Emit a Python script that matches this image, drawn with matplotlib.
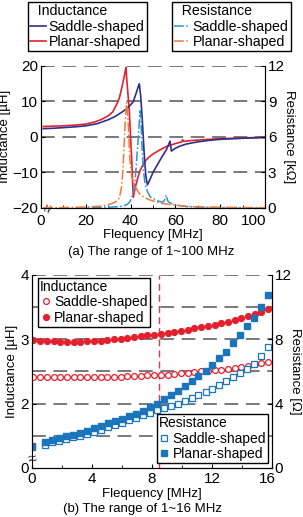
import matplotlib.pyplot as plt
import matplotlib.transforms as mtransforms
from matplotlib.lines import Line2D
from matplotlib.ticker import MultipleLocator

plt.rcParams['font.family'] = ['Liberation Sans', 'DejaVu Sans']

# (a) 1~100 MHz
f_L_planar = [1, 5, 10, 15, 20, 24, 27, 30, 32, 34, 35, 36, 37, 37.5, 37.9, 38.5, 39.4, 40.5, 41.2, 42,
              43, 44.2, 46, 48, 50, 53, 56, 60, 62.8, 63.2, 63.6, 66, 70, 75, 80, 90, 100]
L_planar = [2.9, 3.0, 3.1, 3.3, 3.6, 4.2, 4.9, 5.9, 7.0, 9.4, 11.0, 13.6, 16.5, 18.2, 19.5, 14.5, 7.6, -6.5, -17.0, -14.5,
            -12.0, -9.5, -7.2, -5.8, -4.8, -3.7, -2.7, -1.9, -1.4, -0.8, -1.3, -1.1, -0.9, -0.7, -0.5, -0.3, -0.1]

f_L_saddle = [1, 5, 10, 15, 20, 25, 30, 33, 36, 38, 40, 41.2, 42.7, 43.5, 43.9, 44.5, 45.2, 46, 46.8, 47.5,
              48.5, 50, 52, 54, 56, 57.6, 58.2, 60, 62, 65, 70, 75, 80, 90, 100]
L_saddle = [2.3, 2.4, 2.6, 2.8, 3.1, 3.7, 4.8, 5.7, 6.9, 7.8, 9.0, 9.9, 12.7, 14.3, 14.9, 11.5, 5.0, -4.0, -11.0, -13.5,
            -12.2, -10.0, -7.8, -5.6, -3.6, -1.2, -4.0, -3.2, -2.6, -2.0, -1.4, -1.0, -0.7, -0.4, -0.2]

f_R_planar = [1, 10, 20, 25, 29, 32, 34, 35, 36, 36.5, 37, 37.5, 38.2, 38.6, 39, 39.7, 40.5, 42, 44, 46,
              48.7, 53, 57, 60.5, 65, 70, 80, 100]
R_planar = [0.02, 0.04, 0.08, 0.13, 0.22, 0.4, 0.6, 0.85, 1.8, 3.0, 4.8, 6.9, 8.9, 8.2, 6.9, 4.0, 2.6, 1.8, 1.2, 0.9,
            0.67, 0.42, 0.3, 0.22, 0.14, 0.09, 0.05, 0.02]

f_R_saddle = [1, 10, 20, 28, 32, 35, 36.7, 38.5, 39.7, 41.2, 42, 42.7, 43.3, 43.8, 44.2, 44.6, 45, 45.7, 46.5, 47.5,
              48.7, 51, 53.1, 54.5, 55.3, 55.8, 56.3, 56.8, 58.5, 60.5, 65, 70, 80, 100]
R_saddle = [0.01, 0.02, 0.03, 0.05, 0.08, 0.12, 0.17, 0.3, 0.53, 1.2, 2.3, 4.0, 5.6, 7.0, 8.2, 7.5, 5.5, 3.2, 2.0, 1.4,
            0.95, 0.7, 0.53, 0.5, 0.7, 1.1, 0.8, 0.53, 0.35, 0.25, 0.12, 0.07, 0.04, 0.02]

# (b) 1~16 MHz
f_dots = [0.10, 0.55, 0.99, 1.44, 1.89, 2.34, 2.78, 3.23, 3.68, 4.12, 4.57, 5.02, 5.46, 5.91, 6.36, 6.81, 7.25, 7.70,
          8.15, 8.59, 9.04, 9.49, 9.93, 10.38, 10.83, 11.28, 11.72, 12.17, 12.62, 13.06, 13.51, 13.96, 14.40, 14.85,
          15.30, 15.75]
Lb_planar = [2.99, 2.98, 2.97, 2.97, 2.96, 2.96, 2.96, 2.96, 2.97, 2.97, 2.98, 2.99, 3.00, 3.01, 3.02, 3.03, 3.05, 3.06,
             3.07, 3.09, 3.10, 3.12, 3.13, 3.15, 3.17, 3.19, 3.21, 3.23, 3.25, 3.27, 3.30, 3.33, 3.36, 3.39, 3.43, 3.47]
Lb_saddle = [2.41, 2.41, 2.41, 2.41, 2.41, 2.41, 2.41, 2.41, 2.41, 2.41, 2.42, 2.42, 2.42, 2.42, 2.43, 2.43, 2.43, 2.44,
             2.44, 2.45, 2.45, 2.46, 2.47, 2.48, 2.49, 2.50, 2.51, 2.52, 2.53, 2.54, 2.56, 2.57, 2.59, 2.61, 2.63, 2.65]

f_sq = [0.0, 0.87, 1.34, 1.80, 2.27, 2.73, 3.20, 3.66, 4.13, 4.59, 5.06, 5.52, 5.99, 6.45, 6.92, 7.38, 7.85, 8.31,
        8.78, 9.24, 9.71, 10.17, 10.64, 11.10, 11.57, 12.03, 12.50, 12.96, 13.43, 13.89, 14.36, 14.82, 15.29, 15.75]
Rb_planar = [1.35, 1.64, 1.76, 1.88, 1.97, 2.08, 2.20, 2.33, 2.47, 2.62, 2.78, 2.92, 3.07, 3.22, 3.38, 3.56, 3.78, 3.98,
             4.26, 4.52, 4.79, 5.08, 5.40, 5.70, 6.03, 6.38, 6.85, 7.22, 7.75, 8.28, 8.83, 9.35, 10.03, 10.76]
Rb_saddle = [1.30, 1.43, 1.62, 1.70, 1.78, 1.90, 1.99, 2.10, 2.24, 2.38, 2.54, 2.66, 2.80, 2.97, 3.13, 3.28, 3.44, 3.58,
             3.71, 3.86, 4.00, 4.15, 4.33, 4.52, 4.72, 4.92, 5.14, 5.40, 5.66, 5.90, 6.14, 6.48, 6.95, 7.54]
f_marker = 8.5

navy = '#2e2f8f'
red = '#e5202e'
lblue = '#2a93d0'
orange = '#ee7a3b'
sqblue = '#1b75bc'
gridc = '#555555'
dash = (0, (9, 5))

fig = plt.figure(figsize=(3.03, 5.17), dpi=100)


def shift_last_xlabel(ax, dx_px):
    # nudge the last x tick label left so it does not run into the right axis
    lab = ax.get_xticklabels()[-1]
    lab.set_transform(lab.get_transform() + mtransforms.ScaledTranslation(dx_px / 100, 0, fig.dpi_scale_trans))


# ---------- (a) ----------
ax1 = fig.add_axes([0.1353, 0.5977, 0.7393, 0.2752])
ax1r = ax1.twinx()
ax1.plot(f_L_planar, L_planar, color=red, lw=1.2, zorder=3)
ax1.plot(f_L_saddle, L_saddle, color=navy, lw=1.2, zorder=3)
ax1r.plot(f_R_saddle, R_saddle, color=lblue, lw=1.1, ls='-.')
ax1r.plot(f_R_planar, R_planar, color=orange, lw=1.1, ls='-.')
for y in [-10, 0, 10, 20]:
    ax1.axhline(y, color=gridc, lw=1.1, ls=dash, zorder=1)
ax1.set_xlim(0, 100)
ax1.set_ylim(-20, 20)
ax1r.set_ylim(0, 12)
ax1.set_xticks([0, 20, 40, 60, 80, 100])
ax1.xaxis.set_minor_locator(MultipleLocator(10))
ax1.set_yticks([-20, -10, 0, 10, 20])
ax1r.set_yticks([0, 3, 6, 9, 12])
for a in (ax1, ax1r):
    a.spines['top'].set_visible(False)
    a.tick_params(direction='in', labelsize=11, length=3, pad=2)
    a.tick_params(which='minor', direction='in', length=2)
ax1.tick_params(axis='x', pad=4)
shift_last_xlabel(ax1, -11)
ax1.set_xlabel('Flequency [MHz]', fontsize=9.5, labelpad=1)
ax1.set_ylabel('Inductance [µH]', fontsize=9.5, labelpad=1)
ax1r.set_ylabel('Resistance [kΩ]', fontsize=9.5, rotation=270, labelpad=7)
ax1.text(3.5, -20, '≈', rotation=70, fontsize=11, ha='center', va='center', color='#333333',
         bbox=dict(facecolor='white', edgecolor='none', pad=0.2), clip_on=False, zorder=5)
fig.text(0.5, 0.513, '(a) The range of 1~100 MHz', fontsize=9.5, ha='center', va='center')

leg_kw = dict(fontsize=10.2, title_fontsize=10.2, frameon=True, fancybox=False, framealpha=1,
              edgecolor='black', handlelength=1.1, handletextpad=0.2, labelspacing=0.1,
              borderpad=0.15, borderaxespad=0, alignment='left')
h_ind = [Line2D([], [], color=navy, lw=1.2), Line2D([], [], color=red, lw=1.2)]
lg1 = fig.legend(h_ind, ['Saddle-shaped', 'Planar-shaped'], title='  Inductance',
                 loc='upper left', bbox_to_anchor=(28 / 303, 1 - 2 / 517), **leg_kw)
h_res = [Line2D([], [], color=lblue, lw=1.1, ls='-.'), Line2D([], [], color=orange, lw=1.1, ls='-.')]
lg2 = fig.legend(h_res, ['Saddle-shaped', 'Planar-shaped'], title='  Resistance',
                 loc='upper left', bbox_to_anchor=(172 / 303, 1 - 2 / 517), **leg_kw)
for lg in (lg1, lg2):
    lg.get_frame().set_linewidth(1.0)

# ---------- (b) ----------
ax2 = fig.add_axes([0.1056, 0.0948, 0.792, 0.3733])
ax2r = ax2.twinx()
for y in [1.5, 2, 2.5, 3, 3.5, 4]:
    ax2.axhline(y, color=gridc, lw=1.1, ls=dash, zorder=1)
ax2.axvline(f_marker, color='#ec3340', lw=1.0, ls=(0, (5, 3)), zorder=2)
ax2.plot(f_dots, Lb_saddle, 'o', ms=4.2, mfc='white', mec=red, mew=0.9, ls='none', zorder=3)
ax2.plot(f_dots, Lb_planar, 'o', ms=4.2, color=red, ls='none', zorder=3)
ax2r.plot(f_sq, Rb_saddle, 's', ms=4.6, mfc='white', mec=sqblue, mew=0.9, ls='none')
ax2r.plot(f_sq, Rb_planar, 's', ms=4.8, color=sqblue, ls='none')
ax2.set_xlim(0, 16)
ax2.set_ylim(1, 4)
ax2r.set_ylim(0, 12)
ax2.set_xticks([0, 4, 8, 12, 16])
ax2.xaxis.set_minor_locator(MultipleLocator(2))
ax2.set_yticks([1, 2, 3, 4])
ax2.set_yticklabels(['0', '2', '3', '4'])
ax2r.set_yticks([0, 4, 8, 12])
for a in (ax2, ax2r):
    a.spines['top'].set_visible(False)
    a.tick_params(direction='in', labelsize=11, length=3, pad=2)
    a.tick_params(which='minor', direction='in', length=2)
ax2.tick_params(axis='x', pad=3)
shift_last_xlabel(ax2, -5)
ax2.set_xlabel('Flequency [MHz]', fontsize=9.5, labelpad=1)
ax2.set_ylabel('Inductance [µH]', fontsize=9.5, labelpad=2)
ax2r.set_ylabel('Resistance [Ω]', fontsize=9.5, rotation=270, labelpad=7)
ax2.text(0, 1.14, '≈', rotation=10, fontsize=11, ha='center', va='center', color='#333333',
         bbox=dict(facecolor='white', edgecolor='none', pad=0.2), clip_on=False, zorder=5)
fig.text(0.47, 0.016, '(b) The range of 1~16 MHz', fontsize=9.5, ha='center', va='center')

leg_kw2 = {**leg_kw, 'handlelength': 0.8, 'fontsize': 10, 'title_fontsize': 10}
h_ind2 = [Line2D([], [], marker='o', ms=4.2, mfc='white', mec=red, mew=0.9, ls='none'),
          Line2D([], [], marker='o', ms=4.2, color=red, ls='none')]
lg3 = ax2.legend(h_ind2, ['Saddle-shaped', 'Planar-shaped'], title='Inductance',
                 loc='upper left', bbox_to_anchor=(0.025, 0.985), **leg_kw2)
lg3.set_zorder(6)
h_res2 = [Line2D([], [], marker='s', ms=4.6, mfc='white', mec=sqblue, mew=0.9, ls='none'),
          Line2D([], [], marker='s', ms=4.8, color=sqblue, ls='none')]
lg4 = ax2r.legend(h_res2, ['Saddle-shaped', 'Planar-shaped'], title='Resistance',
                  loc='lower right', bbox_to_anchor=(0.985, 0.025), **leg_kw2)
for lg in (lg3, lg4):
    lg.get_frame().set_linewidth(1.0)

fig.savefig('out.png', dpi=100)
